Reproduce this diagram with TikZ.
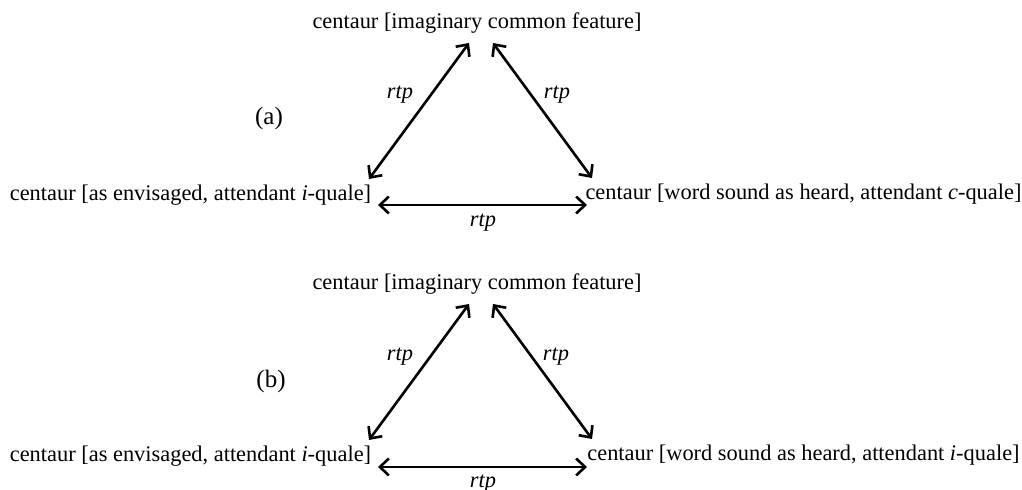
\documentclass[tikz,border=0pt]{standalone}
\usepackage{fontspec}
\setmainfont{Liberation Serif}
\usetikzlibrary{arrows.meta}
\begin{document}
\begin{tikzpicture}[x=0.5pt,y=-0.5pt,
  txt/.style={inner sep=0pt,font=\fontsize{11.2}{13}\selectfont},
  tag/.style={inner sep=0pt,font=\fontsize{12.5}{14}\selectfont},
  rel/.style={inner sep=0pt,font=\fontsize{11.2}{13}\selectfont\itshape},
  link/.style={line width=1.3pt,{Straight Barb[length=4.5pt,width=8.5pt]}-{Straight Barb[length=4.5pt,width=8.5pt]}}]
\useasboundingbox (0,0) rectangle (1022,490);
% ---------- panel (a) ----------
\node[txt] (ta) at (477,23) {centaur [imaginary common feature]};
\node[txt] (la) at (190.5,195) {centaur [as envisaged, attendant \textit{i}-quale]};
\node[txt] (ra) at (803.5,194) {centaur [word sound as heard, attendant \textit{c}-quale]};
\node[tag] (pa) at (269,118) {(a)};
\node[rel] (r1a) at (400,95) {rtp};
\node[rel] (r2a) at (557,95) {rtp};
\node[rel] (r3a) at (483,223) {rtp};
\draw[link] ([shift={(-8,20)}]ta.center) -- ([shift={(178.5,-16)}]la.center);
\draw[link] ([shift={(16,20)}]ta.center) -- ([shift={(-211.5,-16)}]ra.center);
\draw[link] ([shift={(187.5,10)}]la.center) -- ([shift={(-216.5,11)}]ra.center);
% ---------- panel (b) ----------
\node[txt] (tb) at (477,284) {centaur [imaginary common feature]};
\node[txt] (lb) at (190.5,456) {centaur [as envisaged, attendant \textit{i}-quale]};
\node[txt] (rb) at (803.5,455) {centaur [word sound as heard, attendant \textit{i}-quale]};
\node[tag] (pb) at (271,381) {(b)};
\node[rel] (r1b) at (400,357) {rtp};
\node[rel] (r2b) at (556,357) {rtp};
\node[rel] (r3b) at (483,484) {rtp};
\draw[link] ([shift={(-8,20)}]tb.center) -- ([shift={(178.5,-16)}]lb.center);
\draw[link] ([shift={(16,20)}]tb.center) -- ([shift={(-211.5,-16)}]rb.center);
\draw[link] ([shift={(187.5,11)}]lb.center) -- ([shift={(-216.5,12)}]rb.center);
\end{tikzpicture}
\end{document}
